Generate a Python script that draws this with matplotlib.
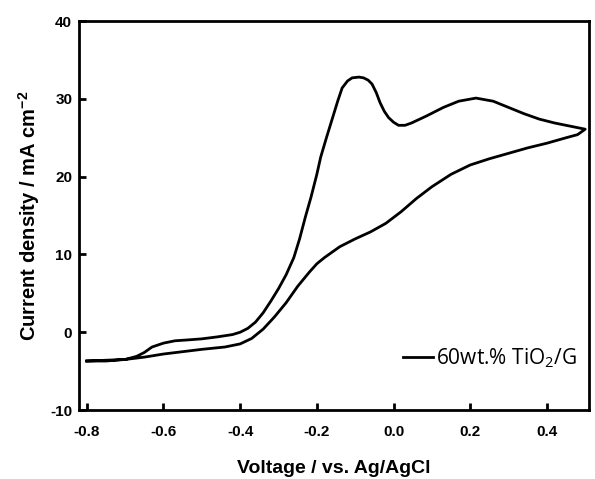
import matplotlib.pyplot as plt

# forward scan (upper branch), -0.8 V -> 0.5 V
v_fwd = [-0.80, -0.75, -0.70, -0.67, -0.65, -0.63, -0.60, -0.57, -0.54, -0.50,
         -0.46, -0.42, -0.40, -0.38, -0.36, -0.34, -0.32, -0.30, -0.28, -0.26,
         -0.245, -0.23, -0.215, -0.20, -0.19, -0.175, -0.16, -0.145, -0.134, -0.12,
         -0.108, -0.09, -0.078, -0.066, -0.056, -0.045, -0.035, -0.024, -0.013, 0.00,
         0.013, 0.03, 0.047, 0.086, 0.13, 0.17, 0.215, 0.26, 0.30, 0.34,
         0.38, 0.42, 0.46, 0.48, 0.50]
j_fwd = [-3.7, -3.6, -3.5, -3.1, -2.6, -1.9, -1.4, -1.1, -1.0, -0.85,
         -0.6, -0.3, 0.0, 0.5, 1.3, 2.5, 4.0, 5.6, 7.4, 9.6,
         12.0, 14.8, 17.4, 20.3, 22.5, 25.0, 27.4, 29.8, 31.4, 32.3,
         32.7, 32.8, 32.7, 32.4, 31.9, 30.8, 29.5, 28.4, 27.6, 27.0,
         26.6, 26.6, 26.9, 27.8, 28.9, 29.7, 30.1, 29.7, 28.9, 28.1,
         27.4, 26.9, 26.5, 26.3, 26.1]

# reverse scan (lower branch), 0.5 V -> -0.8 V
v_rev = [0.50, 0.48, 0.45, 0.40, 0.35, 0.30, 0.25, 0.20, 0.15, 0.10,
         0.06, 0.02, -0.02, -0.06, -0.10, -0.14, -0.18, -0.20, -0.22, -0.25,
         -0.28, -0.31, -0.34, -0.37, -0.40, -0.44, -0.50, -0.55, -0.60, -0.65,
         -0.70, -0.75, -0.80]
j_rev = [26.1, 25.4, 25.0, 24.3, 23.7, 23.0, 22.3, 21.5, 20.3, 18.7,
         17.2, 15.5, 14.0, 12.9, 12.0, 11.0, 9.6, 8.8, 7.7, 5.9,
         3.8, 2.0, 0.4, -0.8, -1.5, -1.9, -2.2, -2.5, -2.8, -3.2,
         -3.5, -3.7, -3.7]

xticks = [-0.8, -0.6, -0.4, -0.2, 0.0, 0.2, 0.4]
yticks = [-10, 0, 10, 20, 30, 40]

plt.rcParams['font.family'] = 'Liberation Sans'
plt.rcParams['axes.unicode_minus'] = False
plt.rcParams['mathtext.fontset'] = 'custom'
plt.rcParams['mathtext.rm'] = 'Open Sans'
plt.rcParams['mathtext.bf'] = 'Liberation Sans:bold'

fig = plt.figure(figsize=(5.95, 4.79), dpi=100)
ax = fig.add_axes([0.133, 0.144, 0.857, 0.812])

ax.plot(v_fwd + v_rev, j_fwd + j_rev, color='black', lw=2.0,
        label='60wt.% TiO$_\\mathrm{2}$/G')

ax.set_xlim(-0.82, 0.51)
ax.set_ylim(-10, 40)
ax.set_xticks(xticks)
ax.set_xticklabels(['%.1f' % t for t in xticks])
ax.set_yticks(yticks)

for s in ax.spines.values():
    s.set_linewidth(2.0)
ax.tick_params(direction='in', length=5, width=2.0, labelsize=11)
ax.tick_params(axis='x', pad=11)
ax.tick_params(axis='y', pad=5)
for lab in ax.get_xticklabels() + ax.get_yticklabels():
    lab.set_fontweight('bold')

ax.set_xlabel('Voltage / vs. Ag/AgCl', fontsize=14, fontweight='bold', labelpad=15)
ax.set_ylabel('Current density / mA cm$^{\\mathbf{-2}}$', fontsize=14.5,
              fontweight='bold', labelpad=6)

leg = ax.legend(loc='center left', bbox_to_anchor=(0.615, 0.134), frameon=False,
                borderpad=0, handlelength=1.45, handletextpad=0.15,
                prop={'family': 'Open Sans', 'size': 15})

fig.savefig('out.png', dpi=100)
